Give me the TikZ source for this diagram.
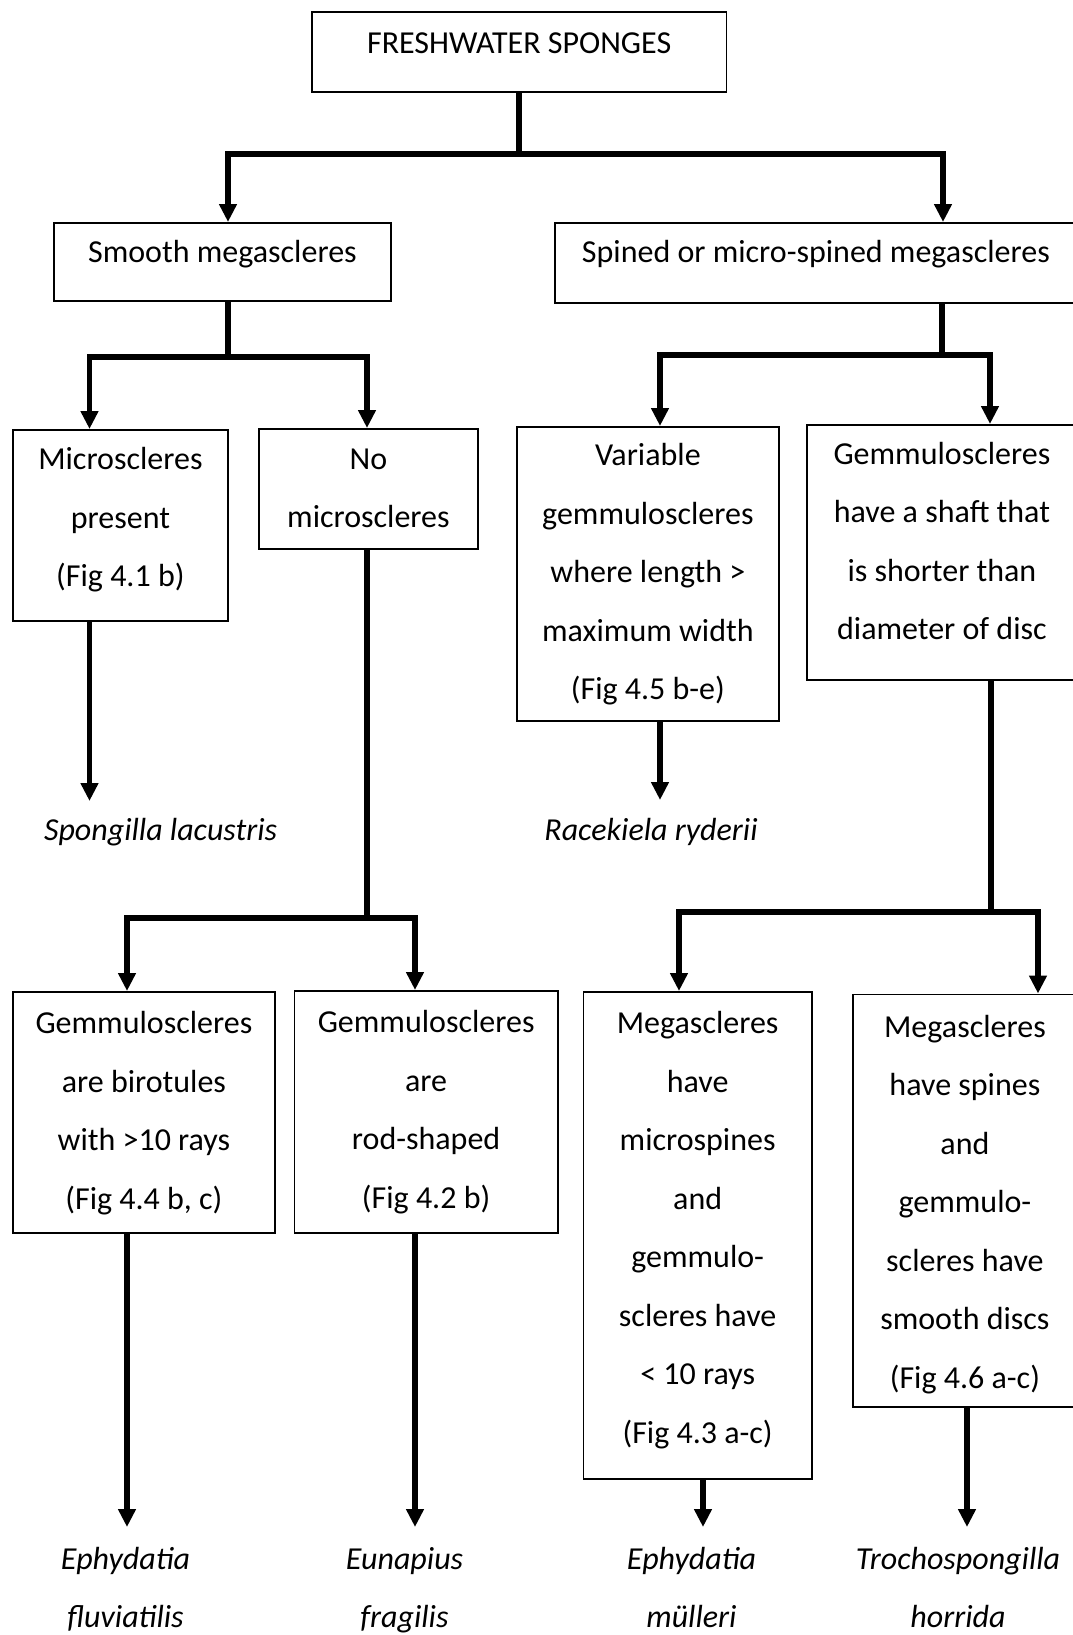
\documentclass[tikz,border=0pt]{standalone}
\usepackage{fontspec}
\setmainfont{Carlito}
\usetikzlibrary{arrows.meta}
\newcommand\bxt[4]{\parbox[c][#2][t]{#1}{\centering\rule{0pt}{#3}#4\par}}
\begin{document}
\begin{tikzpicture}[x=1pt,y=-1pt,
  box/.style={draw, line width=1.8pt, inner sep=0pt, anchor=north west, font=\fontsize{32}{58.5}\selectfont},
  leaf/.style={inner sep=0pt, anchor=base, font=\fontsize{32}{58.5}\selectfont\itshape},
  conn/.style={line width=5.5pt},
  arr/.style={line width=5.5pt, -{Triangle[width=17pt,length=18pt]}}]
\useasboundingbox (0,0) rectangle (1073,1635);
\fill[white] (0,0) rectangle (1073,1635);
\clip (0,0) rectangle (1073,1635);

% boxes
\node[box] (top) at (311,11) {\bxt{414.5pt}{80pt}{42pt}{FRESHWATER SPONGES}};
\node[box] (smooth) at (53,222) {\bxt{337pt}{78pt}{40pt}{Smooth megascleres}};
\node[box] (spined) at (554,222) {\bxt{522pt}{80pt}{40pt}{Spined or micro-spined megascleres}};
\node[box] (micro) at (12,429) {\bxt{215pt}{191pt}{40pt}{Microscleres\\present\\(Fig 4.1 b)}};
\node[box] (nomicro) at (258,428) {\bxt{219pt}{120pt}{40.5pt}{No\\microscleres}};
\node[box] (variable) at (516,426) {\bxt{262pt}{294pt}{39pt}{Variable\\gemmuloscleres\\where length >\\maximum width\\(Fig 4.5 b-e)}};
\node[box] (shaft) at (806,424) {\bxt{270pt}{255pt}{39.5pt}{Gemmuloscleres\\have a shaft that\\is shorter than\\diameter of disc}};
\node[box] (birot) at (12,991) {\bxt{262pt}{241pt}{42pt}{Gemmuloscleres\\are birotules\\with >10 rays\\(Fig 4.4 b, c)}};
\node[box] (rod) at (293.5,990) {\bxt{263.5pt}{242pt}{42pt}{Gemmuloscleres\\are\\rod-shaped\\(Fig 4.2 b)}};
\node[box] (microsp) at (582.5,991) {\bxt{228.5pt}{487pt}{42pt}{Megascleres\\have\\microspines\\and\\gemmulo-\\scleres have\\< 10 rays\\(Fig 4.3 a-c)}};
\node[box] (discs) at (852,993.5) {\bxt{224pt}{412.5pt}{43pt}{Megascleres\\have spines\\and\\gemmulo-\\scleres have\\smooth discs\\(Fig 4.6 a-c)}};

% leaf labels
\node[leaf] (sl) at (160.6,840) {Spongilla lacustris};
\node[leaf] (rr) at (651,840) {Racekiela ryderii};
\node[leaf] (ef) at (125.5,1569) {\parbox[t]{300pt}{\centering Ephydatia\\fluviatilis}};
\node[leaf] (eu) at (404.5,1569) {\parbox[t]{300pt}{\centering Eunapius\\fragilis}};
\node[leaf] (em) at (691.5,1569) {\parbox[t]{300pt}{\centering Ephydatia\\m\"ulleri}};
\node[leaf] (th) at (958,1569) {\parbox[t]{300pt}{\centering Trochospongilla\\horrida}};

% junction coordinates
\coordinate (a1) at (228,154);  \coordinate (a2) at (943,154);
\coordinate (j1) at (top.south |- a1);
\coordinate (j2) at (228,357);  \coordinate (a3) at (89.5,357); \coordinate (a4) at (367,357);
\coordinate (j3) at (942,355);  \coordinate (a5) at (660,355);  \coordinate (a6) at (990,355);
\coordinate (j4) at (367,918);  \coordinate (a7) at (127,918);  \coordinate (a8) at (415,918);
\coordinate (j5) at (991,912);  \coordinate (a9) at (679,912);  \coordinate (a10) at (1038,912);
\coordinate (e1) at (89.5,801); \coordinate (e2) at (660,800);
\coordinate (e3) at (127,1527); \coordinate (e4) at (415,1527);
\coordinate (e5) at (703,1527); \coordinate (e6) at (967,1527);

% split 1
\draw[conn] (top.south) -- (j1);
\draw[arr] (j1) -- (a1) -- (a1 |- smooth.north);
\draw[arr] (j1) -- (a2) -- (a2 |- spined.north);
% split 2
\draw[conn] (j2 |- smooth.south) -- (j2);
\draw[arr] (j2) -- (a3) -- (a3 |- micro.north);
\draw[arr] (j2) -- (a4) -- (a4 |- nomicro.north);
% split 3
\draw[conn] (j3 |- spined.south) -- (j3);
\draw[arr] (j3) -- (a5) -- (a5 |- variable.north);
\draw[arr] (j3) -- (a6) -- (a6 |- shaft.north);
% split 4
\draw[conn] (j4 |- nomicro.south) -- (j4);
\draw[arr] (j4) -- (a7) -- (a7 |- birot.north);
\draw[arr] (j4) -- (a8) -- (a8 |- rod.north);
% split 5
\draw[conn] (j5 |- shaft.south) -- (j5);
\draw[arr] (j5) -- (a9) -- (a9 |- microsp.north);
\draw[arr] (j5) -- (a10) -- (a10 |- discs.north);
% leaves
\draw[arr] (e1 |- micro.south) -- (e1);
\draw[arr] (e2 |- variable.south) -- (e2);
\draw[arr] (e3 |- birot.south) -- (e3);
\draw[arr] (e4 |- rod.south) -- (e4);
\draw[arr] (e5 |- microsp.south) -- (e5);
\draw[arr] (e6 |- discs.south) -- (e6);
\end{tikzpicture}
\end{document}
